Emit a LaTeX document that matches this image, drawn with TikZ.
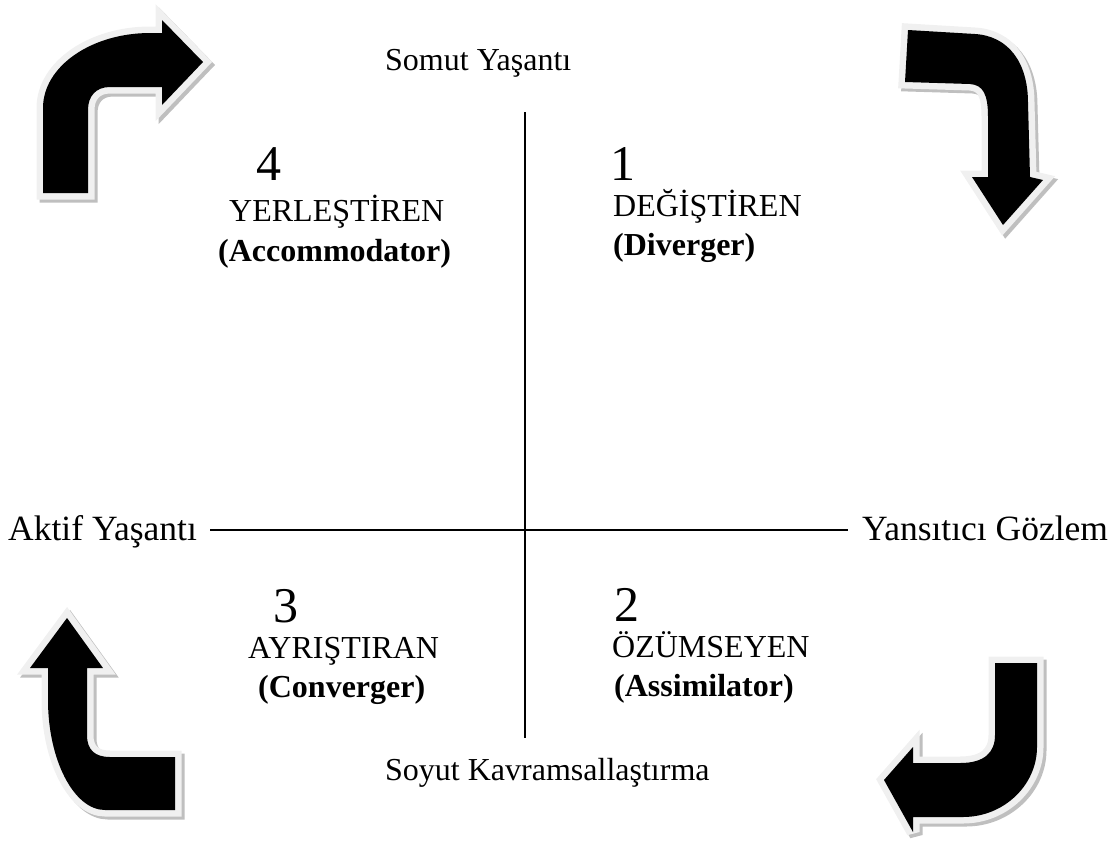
\documentclass[tikz,border=0pt]{standalone}
\usepackage{fontspec}
\setmainfont{Liberation Serif}
\begin{document}
\begin{tikzpicture}[x=1pt,y=-1pt,
  lbl/.style={inner sep=0pt, anchor=base west, font=\fontsize{32}{38}\selectfont},
  side/.style={lbl, font=\fontsize{35.5}{42}\selectfont},
  num/.style={lbl, font=\fontsize{50}{56}\selectfont},
  bold/.style={lbl, font=\fontsize{32}{38}\selectfont\bfseries},
  axis/.style={line width=1.6pt, black},
  arrowshadow/.style={draw=black!25, line width=13pt, line join=miter, miter limit=3},
  arrowrim/.style={draw=black!6, line width=13pt, line join=miter, miter limit=3},
  arrowbody/.style={fill=black}]
\useasboundingbox (0,0) rectangle (1115,860);

% curved arrows: shadow, light rim, black body
\def\tlarrow{(43,193) -- (43,108) .. controls (43,66) and (92,33) .. (150,33)
  -- (162,33) -- (162,20) -- (203,62) -- (162,105) -- (162,87) -- (110,87)
  .. controls (96,87) and (88,96) .. (88,110) -- (88,193) -- cycle}
\def\trarrow{(908,30) -- (975,34) .. controls (1008,36) and (1028,62) .. (1028,103)
  -- (1030,177) -- (1043,180) -- (1003,225) -- (972,177) -- (988,177)
  -- (988,117) .. controls (988,94) and (983,85) .. (970,84) -- (905,82) -- cycle}
\def\blarrow{(67,618) -- (103,668) -- (87,668) -- (87,735)
  .. controls (87,750) and (95,757) .. (110,757) -- (175,757) -- (175,810)
  -- (105,810) .. controls (74,810) and (48,760) .. (48,700) -- (48,668) -- (30,668) -- cycle}
\def\brarrow{(995,663) -- (1037,663) -- (1037,747)
  .. controls (1037,785) and (1004,817) .. (963,817) -- (913,817) -- (913,832)
  -- (884,780) -- (913,747) -- (913,763) -- (960,763)
  .. controls (985,763) and (995,752) .. (995,735) -- cycle}

\foreach \p in {\tlarrow,\trarrow,\blarrow,\brarrow}{
  \draw[arrowshadow, shift={(3,3)}] \p;
}
\foreach \p in {\tlarrow,\trarrow,\blarrow,\brarrow}{
  \draw[arrowrim] \p;
}
\foreach \p in {\tlarrow,\trarrow,\blarrow,\brarrow}{
  \fill[arrowbody] \p;
}

% axes
\coordinate (top) at (525,112);
\coordinate (bottom) at (525,738);
\coordinate (left) at (210,530);
\coordinate (right) at (848,530);
\draw[axis] (top) -- (bottom);
\draw[axis] (left) -- (right);

% pole labels
\node[lbl] (concrete) at (385,70) {Somut Yaşantı};
\node[lbl] (abstract) at (385,780) {Soyut Kavramsallaştırma};
\node[side] (active) at (8,540) {Aktif Yaşantı};
\node[side] (reflective) at (862,540) {Yansıtıcı Gözlem};

% quadrant 4
\node[num] (n4) at (256,180) {4};
\node[lbl] (q4) at (229,221) {YERLEŞTİREN};
\node[bold] (q4en) at (218,261) {(Accommodator)};
% quadrant 1
\node[num] (n1) at (610,180) {1};
\node[lbl] (q1) at (613,216) {DEĞİŞTİREN};
\node[bold] (q1en) at (613,255) {(Diverger)};
% quadrant 3
\node[num] (n3) at (273,622) {3};
\node[lbl] (q3) at (248,658) {AYRIŞTIRAN};
\node[bold] (q3en) at (258,697) {(Converger)};
% quadrant 2
\node[num] (n2) at (614,621) {2};
\node[lbl] (q2) at (612,657) {ÖZÜMSEYEN};
\node[bold] (q2en) at (614,696) {(Assimilator)};
\end{tikzpicture}
\end{document}
